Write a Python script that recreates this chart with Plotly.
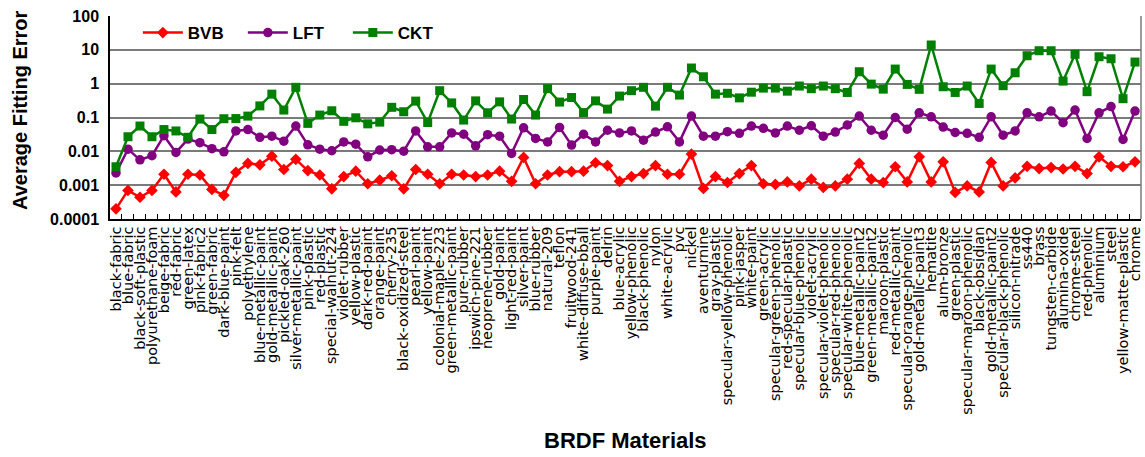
import plotly.graph_objects as go

# BRDF materials along the x axis
materials = [
    "black-fabric", "blue-fabric", "black-soft-plastic", "polyurethane-foam", "beige-fabric",
    "red-fabric", "green-latex", "pink-fabric2", "green-fabric", "dark-blue-paint",
    "pink-felt", "polyethylene", "blue-metallic-paint", "gold-metallic-paint", "pickled-oak-260",
    "silver-metallic-paint", "pink-plastic", "red-plastic", "special-walnut-224", "violet-rubber",
    "yellow-plastic", "dark-red-paint", "orange-paint", "cherry-235", "black-oxidized-steel",
    "pearl-paint", "yellow-paint", "colonial-maple-223", "green-metallic-paint", "pure-rubber",
    "ipswich-pine-221", "neoprene-rubber", "gold-paint", "light-red-paint", "silver-paint",
    "blue-rubber", "natural-209", "teflon", "fruitwood-241", "white-diffuse-bball",
    "purple-paint", "delrin", "blue-acrylic", "yellow-phenolic", "black-phenolic",
    "nylon", "white-acrylic", "pvc", "nickel", "aventurnine",
    "gray-plastic", "specular-yellow-phenolic", "pink-jasper", "white-paint", "green-acrylic",
    "specular-green-phenolic", "red-specular-plastic", "specular-blue-phenolic", "violet-acrylic",
    "specular-violet-phenolic", "specular-red-phenolic", "specular-white-phenolic",
    "blue-metallic-paint2", "green-metallic-paint2", "maroon-plastic", "red-metallic-paint",
    "specular-orange-phenolic", "gold-metallic-paint3", "hematite", "alum-bronze",
    "green-plastic", "specular-maroon-phenolic", "black-obsidian", "gold-metallic-paint2",
    "specular-black-phenolic", "silicon-nitrade", "ss440", "brass", "tungsten-carbide",
    "alumina-oxide", "chrome-steel", "red-phenolic", "aluminium", "steel",
    "yellow-matte-plastic", "chrome",
]

# Average fitting error per material
bvb = [
    0.0002, 0.0007, 0.00044, 0.0007, 0.0021, 0.00063, 0.0021, 0.002, 0.00075, 0.0005,
    0.0024, 0.0044, 0.004, 0.0072, 0.0029, 0.0058, 0.0027, 0.002, 0.00078, 0.0018,
    0.0026, 0.0011, 0.0014, 0.0019, 0.00078, 0.0029, 0.0021, 0.0011, 0.0021, 0.002,
    0.0018, 0.002, 0.0026, 0.0013, 0.0066, 0.0011, 0.002, 0.0025, 0.0025, 0.0026,
    0.0046, 0.0038, 0.0013, 0.0018, 0.0022, 0.0038, 0.0021, 0.0021, 0.0083, 0.0008,
    0.0018, 0.0012, 0.0022, 0.0038, 0.0011, 0.00105, 0.00125, 0.00095, 0.0015, 0.00086,
    0.00095, 0.0015, 0.0044, 0.0015, 0.0012, 0.0035, 0.00125, 0.0069, 0.00125, 0.0049,
    0.00061, 0.00095, 0.00063, 0.0047, 0.00095, 0.00164, 0.0036, 0.0031, 0.0033, 0.003,
    0.0036, 0.0022, 0.0069, 0.0036, 0.0035, 0.0049,
]
lft = [
    0.0023, 0.0116, 0.0056, 0.0074, 0.029, 0.0093, 0.023, 0.018, 0.012, 0.0097,
    0.040, 0.044, 0.026, 0.028, 0.020, 0.056, 0.0156, 0.0116, 0.0104, 0.019,
    0.0163, 0.0069, 0.0109, 0.0112, 0.0101, 0.040, 0.0136, 0.0136, 0.035, 0.032,
    0.0146, 0.031, 0.028, 0.0087, 0.0496, 0.024, 0.019, 0.051, 0.0153, 0.032,
    0.019, 0.042, 0.035, 0.040, 0.0214, 0.037, 0.053, 0.019, 0.11, 0.028,
    0.028, 0.038, 0.034, 0.056, 0.048, 0.035, 0.056, 0.042, 0.057, 0.028,
    0.037, 0.06, 0.11, 0.042, 0.030, 0.10, 0.045, 0.138, 0.105, 0.052,
    0.036, 0.034, 0.026, 0.105, 0.030, 0.040, 0.138, 0.105, 0.155, 0.07,
    0.166, 0.024, 0.138, 0.21, 0.0225, 0.155,
]
ckt = [
    0.0035, 0.027, 0.056, 0.027, 0.044, 0.040, 0.026, 0.09, 0.044, 0.092,
    0.093, 0.11, 0.22, 0.49, 0.166, 0.78, 0.067, 0.118, 0.158, 0.077,
    0.098, 0.065, 0.073, 0.2, 0.148, 0.305, 0.071, 0.62, 0.27, 0.084,
    0.31, 0.138, 0.29, 0.09, 0.34, 0.118, 0.71, 0.286, 0.39, 0.14,
    0.31, 0.177, 0.43, 0.62, 0.78, 0.217, 0.78, 0.46, 2.9, 1.6,
    0.49, 0.52, 0.38, 0.56, 0.74, 0.74, 0.60, 0.85, 0.71, 0.85,
    0.71, 0.55, 2.25, 0.97, 0.69, 2.7, 0.95, 0.68, 13.9, 0.81,
    0.55, 0.85, 0.26, 2.7, 0.87, 2.1, 6.7, 9.4, 9.4, 1.19,
    7.4, 0.58, 6.25, 5.45, 0.36, 4.35,
]

y_ticks = [1e-4, 1e-3, 1e-2, 1e-1, 1, 10, 100]
y_tick_text = ["0.0001", "0.001", "0.01", "0.1", "1", "10", "100"]

series = [
    ("BVB", bvb, "#FF0000", "diamond", 9),
    ("LFT", lft, "#800080", "circle", 9.5),
    ("CKT", ckt, "#008000", "square", 9),
]

fig = go.Figure()
for name, vals, color, symbol, msize in series:
    fig.add_trace(go.Scatter(
        x=materials, y=vals, name=name, mode="lines+markers",
        line=dict(color=color, width=2.5),
        marker=dict(color=color, symbol=symbol, size=msize),
    ))

bold = "Arial, Liberation Sans, sans-serif"
fig.update_layout(
    width=1145, height=457,
    margin=dict(l=110, r=4, t=16, b=238, autoexpand=False),
    plot_bgcolor="white", paper_bgcolor="white",
    legend=dict(
        orientation="h", x=0.027, y=0.916, xanchor="left", yanchor="middle",
        font=dict(family=bold, size=17, color="black", weight="bold"),
        bgcolor="rgba(0,0,0,0)", itemwidth=40, entrywidth=50,
    ),
    xaxis=dict(
        type="category", categoryorder="array", categoryarray=materials,
        range=[-0.5, len(materials) - 0.5], tickangle=-90,
        tickmode="linear", dtick=1,
        tickfont=dict(family="DejaVu Sans", size=14.5, color="black"),
        ticks="inside", ticklen=5, tickcolor="black", tickson="boundaries",
        showline=True, linecolor="black", linewidth=1.5,
        showgrid=False, zeroline=False, automargin=False,
    ),
    yaxis=dict(
        type="log", range=[-4, 2], tickmode="array",
        tickvals=y_ticks, ticktext=y_tick_text,
        tickfont=dict(family=bold, size=16, color="black", weight="bold"),
        showgrid=True, gridcolor="#7a7a7a", gridwidth=1.5,
        showline=True, linecolor="black", linewidth=1.5,
        ticks="", ticklabelstandoff=6, zeroline=False, automargin=False,
    ),
    shapes=[dict(type="line", xref="paper", yref="paper", x0=1, x1=1, y0=0, y1=1,
                 line=dict(color="#7a7a7a", width=1.5))],
    annotations=[
        dict(text="Average Fitting Error", xref="paper", yref="paper",
             x=-0.0873, y=0.537, xanchor="center", yanchor="middle",
             textangle=-90, showarrow=False,
             font=dict(family=bold, size=20, color="black", weight="bold")),
        dict(text="BRDF Materials", xref="paper", yref="paper",
             x=0.5, y=-1.089, xanchor="center", yanchor="middle", showarrow=False,
             font=dict(family=bold, size=22, color="black", weight="bold")),
    ],
)

fig.write_html("out.html")
